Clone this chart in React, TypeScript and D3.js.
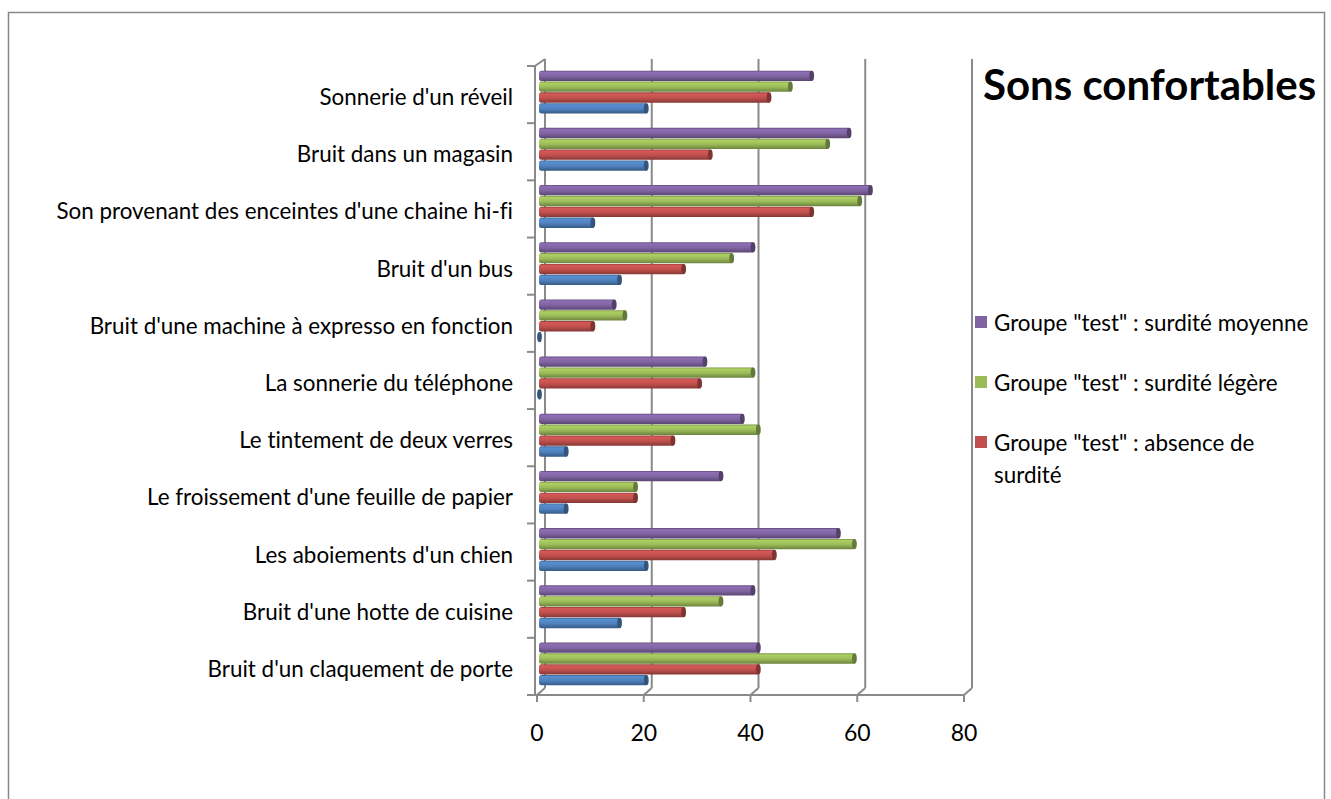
import React from "react";
import * as d3 from "d3";

const categories = [
  "Sonnerie d'un réveil",
  "Bruit dans un magasin",
  "Son provenant des enceintes d'une chaine hi-fi",
  "Bruit d'un bus",
  "Bruit d'une machine à expresso en fonction",
  "La sonnerie du téléphone",
  "Le tintement de deux verres",
  "Le froissement d'une feuille de papier",
  "Les aboiements d'un chien",
  "Bruit d'une hotte de cuisine",
  "Bruit d'un claquement de porte",
];

const surditeMoyenne = [51, 58, 62, 40, 14, 31, 38, 34, 56, 40, 41];
const surditeLegere = [47, 54, 60, 36, 16, 40, 41, 18, 59, 34, 59];
const absenceSurdite = [43, 32, 51, 27, 10, 30, 25, 18, 44, 27, 41];
const groupeControle = [20, 20, 10, 15, 0, 0, 5, 5, 20, 15, 20];

const seriesNames = [
  'Groupe "test" : surdité moyenne',
  'Groupe "test" : surdité légère',
  'Groupe "test" : absence de surdité',
  "Groupe contrôle",
];
const seriesColors = ["#8064A2", "#9BBB59", "#C0504D", "#4F81BD"];
const seriesValues = [surditeMoyenne, surditeLegere, absenceSurdite, groupeControle];

const legendLines = [
  ['Groupe "test" : surdité moyenne'],
  ['Groupe "test" : surdité légère'],
  ['Groupe "test" : absence de', "surdité"],
];
const legendColors = ["#8064A2", "#9BBB59", "#C0504D"];

const xTicks = [0, 20, 40, 60, 80];
const title = "Sons confortables";

const W = 1331;
const H = 799;
const FONT = "Lato, 'Open Sans', sans-serif";
const GRID = "#8a8a8a";

export default function App() {
  const xF = d3.scaleLinear().domain([0, 80]).range([537, 964]);
  const dx = 8;
  const dy = -7;
  const xB = (v: number) => xF(v) + dx;
  const xM = (v: number) => xF(v) + dx / 2;
  const yF = d3.scaleBand<string>().domain(categories).range([66, 695]).padding(0);
  const yM = d3
    .scaleBand<string>()
    .domain(categories)
    .range([66 - 2.5, 695 - 2.5])
    .paddingInner(0.25)
    .paddingOuter(0.125);
  const yS = d3
    .scaleBand<string>()
    .domain(seriesNames)
    .range([0, yM.bandwidth()])
    .paddingInner(0.05);

  const topF = 66;
  const botF = 695;
  const topB = topF + dy;
  const botB = botF + dy;

  const bh = yS.bandwidth();

  return (
    <svg
      width={W}
      height={H}
      style={{ position: "absolute", left: 0, top: 0, background: "#fff", fontVariantLigatures: "none" }}
      fontFamily={FONT}
    >
      <defs>
        {seriesColors.map((c, i) => (
          <linearGradient key={i} id={`g${i}`} x1="0" y1="0" x2="0" y2="1">
            <stop offset="0%" stopColor={d3.color(c)!.darker(0.8).toString()} />
            <stop offset="15%" stopColor={d3.color(c)!.brighter(0.3).toString()} />
            <stop offset="55%" stopColor={c} />
            <stop offset="100%" stopColor={d3.color(c)!.darker(1).toString()} />
          </linearGradient>
        ))}
      </defs>
      <rect x={8.5} y={12.5} width={1316} height={H + 20} fill="#fff" stroke="#888" strokeWidth={1.5} />

      {xTicks.map((t) => (
        <g key={`gl${t}`}>
          <line x1={xB(t)} x2={xB(t)} y1={topB} y2={botB} stroke={GRID} strokeWidth={2} />
          <line x1={xB(t)} x2={xF(t)} y1={botB} y2={botF} stroke={GRID} strokeWidth={2} />
          <line x1={xF(t)} x2={xF(t)} y1={botF} y2={botF + 7} stroke={GRID} strokeWidth={2} />
        </g>
      ))}
      <line x1={xF(0) - 9} x2={xF(80)} y1={botF} y2={botF} stroke={GRID} strokeWidth={2} />
      <line x1={535} x2={535} y1={topF} y2={botF} stroke={GRID} strokeWidth={2} />
      <line x1={535} x2={xB(0)} y1={topF} y2={topB} stroke={GRID} strokeWidth={2} />
      {[...categories.map((c) => yF(c)!), botF].map((y, i) => (
        <line key={`ct${i}`} x1={527} x2={535} y1={y} y2={y} stroke={GRID} strokeWidth={2} />
      ))}

      {categories.map((cat, ci) => (
        <g key={`cat${ci}`}>
          {seriesNames.map((s, si) => {
            const v = seriesValues[si][ci];
            const y = yM(cat)! + yS(s)!;
            const x0 = xM(0) - 2;
            const x1 = xM(v);
            const dark = d3.color(seriesColors[si])!.darker(1.2).toString();
            return (
              <g key={`b${si}`}>
                <rect
                  x={x0}
                  y={y}
                  width={Math.max(x1 - x0, 2)}
                  height={bh}
                  rx={2.5}
                  fill={`url(#g${si})`}
                />
                <ellipse cx={x1 - 1.5} cy={y + bh / 2} rx={2.4} ry={bh / 2} fill={dark} />
              </g>
            );
          })}
        </g>
      ))}

      {categories.map((cat) => (
        <text
          key={`lab${cat}`}
          x={513}
          y={yF(cat)! + yF.bandwidth() / 2 + 2}
          textAnchor="end"
          dominantBaseline="central"
          fontSize={22.4}
          fill="#000"
        >
          {cat}
        </text>
      ))}

      {xTicks.map((t) => (
        <text
          key={`xt${t}`}
          x={xF(t)}
          y={732}
          textAnchor="middle"
          dominantBaseline="central"
          fontSize={23}
          fill="#000"
        >
          {t}
        </text>
      ))}

      <text x={983} y={84} dominantBaseline="central" fontSize={42} fontWeight="bold" fill="#000">
        {title}
      </text>

      {legendLines.map((lines, i) => {
        const cy = 322 + i * 60;
        return (
          <g key={`lg${i}`}>
            <rect x={975} y={cy - 6} width={12} height={12} fill={legendColors[i]} />
            {lines.map((ln, j) => (
              <text
                key={j}
                x={994}
                y={cy + j * 32}
                dominantBaseline="central"
                fontSize={22.4}
                fill="#000"
              >
                {ln}
              </text>
            ))}
          </g>
        );
      })}
    </svg>
  );
}
